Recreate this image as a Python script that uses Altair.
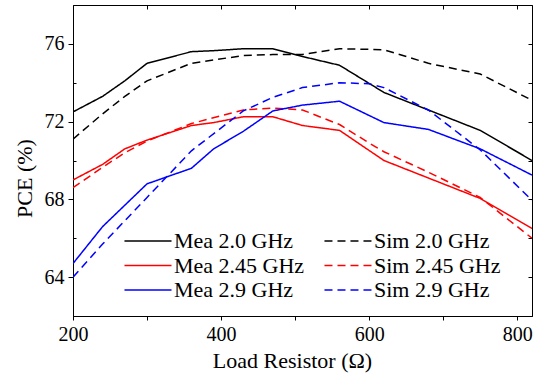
import altair as alt
import pandas as pd

# Load resistor values (Ohm)
x_mea = [200, 240, 270, 300, 360, 390, 430, 470, 510, 560, 620, 680, 750, 820]
x_sim = [200, 240, 270, 300, 360, 430, 470, 510, 560, 600, 620, 680, 750, 820]

# PCE (%)
mea_20 = [72.5, 73.3, 74.1, 75.0, 75.6, 75.65, 75.75, 75.75, 75.35, 74.9, 73.5, 72.6, 71.55, 70.0]
mea_245 = [69.0, 69.8, 70.6, 71.05, 71.8, 71.95, 72.25, 72.25, 71.8, 71.55, 70.0, 69.1, 68.05, 66.5]
mea_29 = [64.7, 66.6, 67.7, 68.8, 69.6, 70.6, 71.5, 72.55, 72.85, 73.05, 71.95, 71.6, 70.6, 69.25]

sim_20 = [71.1, 72.4, 73.3, 74.1, 75.0, 75.4, 75.45, 75.45, 75.75, 75.72, 75.7, 75.0, 74.45, 73.1]
sim_245 = [68.6, 69.65, 70.4, 71.0, 71.9, 72.6, 72.7, 72.6, 71.85, 70.9, 70.45, 69.4, 68.1, 66.0]
sim_29 = [64.0, 65.7, 66.9, 68.1, 70.5, 72.55, 73.25, 73.75, 74.0, 73.95, 73.75, 72.6, 70.55, 67.95]

series_names = ["Mea 2.0 GHz", "Mea 2.45 GHz", "Mea 2.9 GHz",
                "Sim 2.0 GHz", "Sim 2.45 GHz", "Sim 2.9 GHz"]
series_colors = ["#000000", "#ff0000", "#0000ff", "#000000", "#ff0000", "#0000ff"]
series_dashes = [[1, 0], [1, 0], [1, 0], [8, 5], [8, 5], [8, 5]]

x_ticks = [200, 300, 400, 500, 600, 700, 800]
y_major = [64, 68, 72, 76]
y_all = [62, 64, 66, 68, 70, 72, 74, 76, 78]
y_minor = [66, 70, 74]

rows = []
for name, xs, ys in [
    ("Mea 2.0 GHz", x_mea, mea_20),
    ("Sim 2.0 GHz", x_sim, sim_20),
    ("Mea 2.45 GHz", x_mea, mea_245),
    ("Sim 2.45 GHz", x_sim, sim_245),
    ("Mea 2.9 GHz", x_mea, mea_29),
    ("Sim 2.9 GHz", x_sim, sim_29),
]:
    for xv, yv in zip(xs, ys):
        rows.append({"series": name, "R": xv, "PCE": yv})
df = pd.DataFrame(rows)

FONT = "Liberation Serif, Times New Roman, serif"
xscale = alt.Scale(domain=[200, 820], nice=False, zero=False)
yscale = alt.Scale(domain=[62, 78], nice=False, zero=False)

legend_cfg = dict(
    title=None, orient="none", legendX=64, legendY=225, columns=2,
    direction="vertical",
    symbolType="M-2.94,0H2.94", symbolSize=256, symbolStrokeWidth=1.5,
    labelOffset=15, columnPadding=16, rowPadding=2.5, padding=0,
    labelFont=FONT, labelFontSize=22, labelColor="black",
)

main = alt.Chart(df).mark_line(strokeWidth=1.5, clip=True).encode(
    x=alt.X("R:Q", scale=xscale, title="Load Resistor (Ω)",
            axis=alt.Axis(orient="bottom", values=x_ticks,
                          labelExpr="datum.value % 200 == 0 ? datum.value : ''",
                          labelFlush=False, labelOverlap=False,
                          tickSize=4, labelPadding=4, titlePadding=6, titleX=219,
                          grid=False)),
    y=alt.Y("PCE:Q", scale=yscale, title="PCE (%)",
            axis=alt.Axis(orient="left", values=y_major, tickSize=5, labelFlush=False,
                          labelPadding=4, titlePadding=8, titleY=173, grid=False)),
    color=alt.Color("series:N", scale=alt.Scale(domain=series_names, range=series_colors),
                    legend=alt.Legend(**legend_cfg)),
    strokeDash=alt.StrokeDash("series:N", scale=alt.Scale(domain=series_names, range=series_dashes),
                              legend=alt.Legend(**legend_cfg)),
)

frame = alt.Chart(df).mark_line(opacity=0).encode(
    x=alt.X("R:Q", scale=xscale, title=None,
            axis=alt.Axis(orient="top", values=x_ticks, labels=False, domain=False,
                          tickSize=4, offset=-4, grid=False)),
    y=alt.Y("PCE:Q", scale=yscale, title=None,
            axis=alt.Axis(orient="right", values=y_all, labels=False, domain=False,
                          tickSize=4, offset=-4, grid=False)),
    detail="series:N",
)

inner = alt.Chart(df).mark_line(opacity=0).encode(
    x=alt.X("R:Q", scale=xscale, axis=None),
    y=alt.Y("PCE:Q", scale=yscale, title=None,
            axis=alt.Axis(orient="left", values=y_minor, labels=False, domain=False,
                          tickSize=3, offset=-3, grid=False)),
    detail="series:N",
)

chart = alt.layer(main, frame, inner).resolve_axis(
    x="independent", y="independent"
).properties(
    width=459, height=311, autosize="none",
    padding={"left": 73, "top": 5, "right": 9, "bottom": 62},
).configure_view(
    stroke="black", strokeWidth=1
).configure_axis(
    labelFont=FONT, labelFontSize=20, labelColor="black",
    titleFont=FONT, titleFontSize=22, titleFontWeight="normal", titleColor="black",
    domainColor="black", tickColor="black", domainWidth=1, tickWidth=1,
)

chart.save("out.html", embed_options={"renderer": "svg", "actions": False})
